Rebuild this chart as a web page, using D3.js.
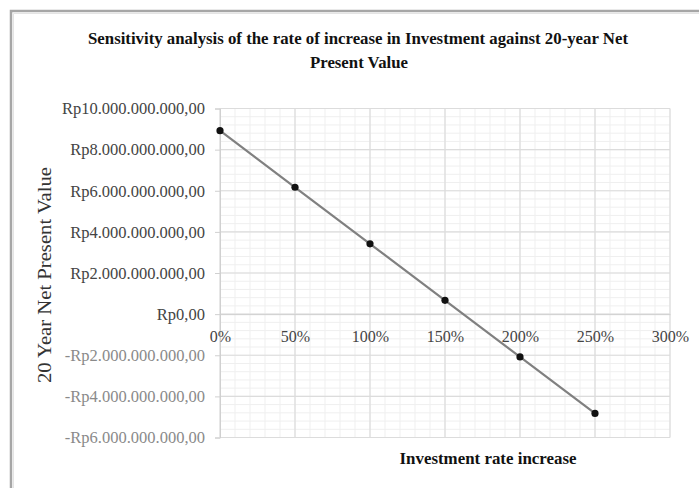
<!DOCTYPE html>
<html>
<head>
<meta charset="utf-8">
<script src="https://cdn.jsdelivr.net/npm/d3@7"></script>
<style>
  html, body { margin: 0; padding: 0; background: #fff; }
  svg { display: block; }
  text { font-family: "Liberation Serif", "Times New Roman", serif; }
</style>
</head>
<body>
<svg id="chart" width="699" height="488"></svg>
<script>
// Investment rate increase (fraction) and the resulting 20-year NPV (Rupiah)
const rateIncrease = [0, 0.5, 1.0, 1.5, 2.0, 2.5];
const npvValues = [8.92e9, 6.17e9, 3.42e9, 0.67e9, -2.08e9, -4.83e9];
const yTicks = [10e9, 8e9, 6e9, 4e9, 2e9, 0, -2e9, -4e9, -6e9];
const xTicks = [0, 0.5, 1.0, 1.5, 2.0, 2.5, 3.0];
const titleLines = [
  "Sensitivity analysis of the rate of increase in Investment against 20-year Net",
  "Present Value"
];
const xTitle = "Investment rate increase";
const yTitle = "20 Year Net Present Value";

const svg = d3.select("#chart");
const W = 699, H = 488;

// Indonesian currency formatting: Rp10.000.000.000,00
const idLocale = d3.formatLocale({
  decimal: ",", thousands: ".", grouping: [3], currency: ["Rp", ""], minus: "-"
});
const fmtRp = idLocale.format("$,.2f");
const fmtPct = d3.format(".0%");

const plot = { left: 220, right: 670, top: 108.5, bottom: 437.5 };
const x = d3.scaleLinear().domain([0, 3]).range([plot.left, plot.right]);
const y = d3.scaleLinear().domain([-6e9, 10e9]).range([plot.bottom, plot.top]);

// chart frame
svg.append("path")
  .attr("d", `M11,${H} V11 H${W}`)
  .attr("fill", "none").attr("stroke", "#a6a6a6").attr("stroke-width", 2.5);
svg.append("path")
  .attr("d", `M13.5,${H} V13.5 H${W}`)
  .attr("fill", "none").attr("stroke", "#e4e4e4").attr("stroke-width", 1);

// title
const title = svg.append("g").attr("font-weight", "bold").attr("fill", "#111");
title.append("text").attr("x", 88).attr("y", 44)
  .attr("font-size", 17).attr("textLength", 540).attr("lengthAdjust", "spacingAndGlyphs")
  .text(titleLines[0]);
title.append("text").attr("x", 310).attr("y", 68)
  .attr("font-size", 17).attr("textLength", 98).attr("lengthAdjust", "spacingAndGlyphs")
  .text(titleLines[1]);

// minor gridlines
const minorX = d3.range(0, 3.0001, 0.1);
const minorY = d3.range(-6e9, 10e9 + 1, 0.4e9);
const grid = svg.append("g");
grid.selectAll("line.mx").data(minorX).join("line")
  .attr("x1", d => x(d)).attr("x2", d => x(d))
  .attr("y1", plot.top).attr("y2", plot.bottom)
  .attr("stroke", "#efefef").attr("stroke-width", 1);
grid.selectAll("line.my").data(minorY).join("line")
  .attr("x1", plot.left).attr("x2", plot.right)
  .attr("y1", d => y(d)).attr("y2", d => y(d))
  .attr("stroke", "#efefef").attr("stroke-width", 1);
// major gridlines
grid.selectAll("line.gx").data(xTicks).join("line")
  .attr("x1", d => x(d)).attr("x2", d => x(d))
  .attr("y1", plot.top).attr("y2", plot.bottom)
  .attr("stroke", "#dcdcdc").attr("stroke-width", 1.2);
grid.selectAll("line.gy").data(yTicks).join("line")
  .attr("x1", plot.left).attr("x2", plot.right)
  .attr("y1", d => y(d)).attr("y2", d => y(d))
  .attr("stroke", "#dcdcdc").attr("stroke-width", 1.2);

// y axis
const yAxis = svg.append("g")
  .attr("transform", `translate(${plot.left},0)`)
  .call(d3.axisLeft(y).tickValues(yTicks).tickFormat(fmtRp).tickSize(5).tickPadding(10));
yAxis.select(".domain").attr("stroke", "#d0d0d0");
yAxis.selectAll(".tick line").attr("stroke", "#d0d0d0");
yAxis.selectAll(".tick text")
  .attr("font-family", "Liberation Serif, serif")
  .attr("font-size", 16.5)
  .attr("fill", d => d < 0 ? "#8a8a8a" : "#444");

// x axis at zero line
const xAxis = svg.append("g")
  .attr("transform", `translate(0,${y(0)})`)
  .call(d3.axisBottom(x).tickValues(xTicks).tickFormat(fmtPct).tickSize(0).tickPadding(17));
xAxis.select(".domain").attr("stroke", "#d0d0d0");
xAxis.selectAll(".tick text")
  .attr("font-family", "Liberation Serif, serif")
  .attr("font-size", 16)
  .attr("fill", "#444");

// axis titles
svg.append("text")
  .attr("transform", `translate(51,275) rotate(-90)`)
  .attr("text-anchor", "middle")
  .attr("font-size", 19.5).attr("fill", "#333")
  .attr("textLength", 216).attr("lengthAdjust", "spacingAndGlyphs")
  .text(yTitle);
svg.append("text")
  .attr("x", 488).attr("y", 464)
  .attr("text-anchor", "middle")
  .attr("font-size", 16.5).attr("font-weight", "bold").attr("fill", "#111")
  .attr("textLength", 177).attr("lengthAdjust", "spacingAndGlyphs")
  .text(xTitle);

// series line and markers
const pts = rateIncrease.map((r, i) => [r, npvValues[i]]);
svg.append("path")
  .datum(pts)
  .attr("fill", "none").attr("stroke", "#808080").attr("stroke-width", 2.2)
  .attr("d", d3.line().x(d => x(d[0])).y(d => y(d[1])));
svg.selectAll("circle.pt").data(pts).join("circle")
  .attr("cx", d => x(d[0])).attr("cy", d => y(d[1]))
  .attr("r", 3.6).attr("fill", "#111");
</script>
</body>
</html>
